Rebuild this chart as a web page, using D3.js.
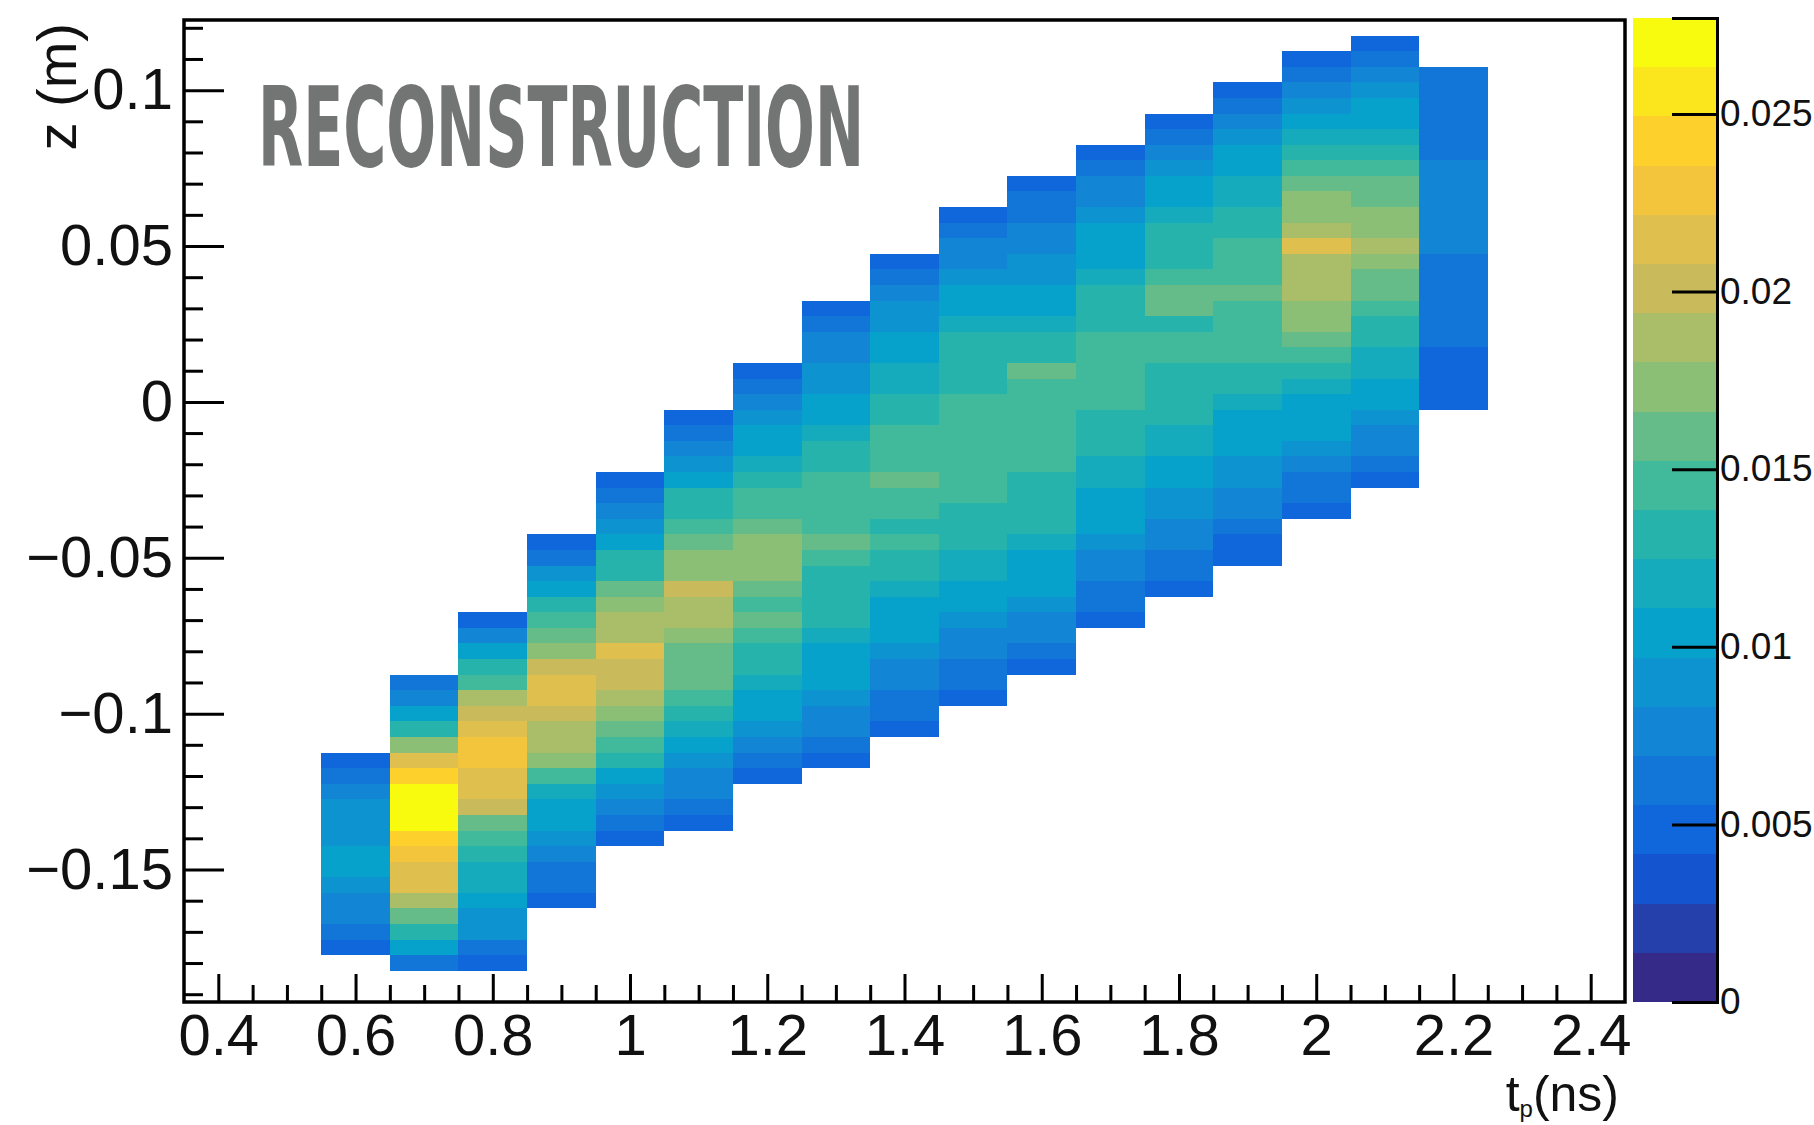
<!DOCTYPE html>
<html>
<head>
<meta charset="utf-8">
<script src="https://cdn.jsdelivr.net/npm/d3@7"></script>
<style>
  body { margin: 0; background: #fff; }
  svg { display: block; }
  .tick text { font-family: "Liberation Sans", Arial, sans-serif; fill: #111; }
</style>
</head>
<body>
<div id="chart"></div>
<script>
// t_p bin centres (ns), 0.1 ns wide
const tCentres = [0.6, 0.7, 0.8, 0.9, 1.0, 1.1, 1.2, 1.3, 1.4, 1.5, 1.6, 1.7, 1.8, 1.9, 2.0, 2.1, 2.2];
// centre of the lowest filled z bin in each column (m), bins are 0.005 m tall
const zLowest = [-0.175, -0.18, -0.18, -0.16, -0.14, -0.135, -0.12, -0.115, -0.105, -0.095,
                 -0.085, -0.07, -0.06, -0.05, -0.035, -0.025, 0];
// bin contents per column, bottom to top, in units of 1e-4
const cellValues = [
  [48,62,76,76,90,104,104,90,90,90,76,62,48],
  [62,104,132,159,187,215,215,229,242,270,270,270,242,215,173,132,104,76,62],
  [48,62,90,90,104,118,118,132,145,159,201,215,215,229,229,215,201,187,145,132,104,76,48],
  [48,62,62,76,90,104,104,118,145,173,187,187,201,215,215,201,173,159,145,132,104,90,62,48],
  [48,62,76,90,104,132,145,159,173,187,201,201,215,187,187,173,159,132,132,104,90,76,62,48],
  [48,62,76,76,90,104,118,132,145,159,159,159,173,187,187,201,173,173,159,145,132,132,104,90,76,62,48],
  [48,62,76,90,104,104,118,132,132,145,159,145,159,173,173,173,159,145,145,132,118,104,104,90,76,62,48],
  [48,62,76,76,90,104,104,104,118,132,132,132,132,145,159,145,145,145,145,132,132,118,104,104,90,90,76,76,62,48],
  [48,62,62,76,76,90,104,104,104,118,132,132,145,132,145,145,159,145,145,145,132,132,118,118,104,104,90,90,76,62,48],
  [48,62,62,76,76,90,104,104,118,118,132,132,132,145,145,145,145,145,145,145,132,132,132,132,118,104,104,90,76,76,62,48],
  [48,62,76,76,90,104,104,104,118,132,132,132,132,145,145,145,145,145,145,159,132,132,118,104,104,90,90,76,76,62,62,48],
  [48,62,62,76,76,90,104,104,104,118,118,132,132,132,145,145,145,145,145,132,132,132,118,104,104,104,90,76,76,62,48],
  [48,62,62,76,76,90,90,104,104,118,118,132,132,132,132,145,145,132,159,159,145,132,132,132,118,104,104,90,76,62,48],
  [48,48,62,76,76,90,90,104,104,104,118,132,132,145,145,145,145,159,145,145,145,132,132,118,118,104,104,90,76,62,48],
  [48,62,62,76,90,104,104,104,118,132,145,159,173,173,187,187,187,215,187,173,173,159,145,132,118,104,90,76,62,48],
  [48,62,76,76,90,104,104,118,118,132,132,145,159,159,173,187,173,173,159,159,145,132,118,104,104,90,76,62,48],
  [48,48,48,48,62,62,62,62,62,62,76,76,76,76,76,76,62,62,62,62,62,62]
];

const xTicks = [0.4, 0.6, 0.8, 1, 1.2, 1.4, 1.6, 1.8, 2, 2.2, 2.4];
const yTicks = [-0.15, -0.1, -0.05, 0, 0.05, 0.1];
const zTicks = [0, 0.005, 0.01, 0.015, 0.02, 0.025];
const zMax = 0.0277;
const nContours = 20;

// ROOT kBird palette
const birdStops = [0, 0.125, 0.25, 0.375, 0.5, 0.625, 0.75, 0.875, 1];
const birdColors = ["#352a87", "#0f5cdd", "#1481d6", "#06a4ca", "#2eb7a4",
                    "#87bf77", "#d1bb59", "#fec832", "#f9fb0e"];

const width = 1814, height = 1125;
const plot = { left: 184, right: 1625, top: 20, bottom: 1002 };
const bar = { left: 1633, right: 1717, top: 18, bottom: 1002 };

const svg = d3.select("#chart").append("svg")
    .attr("width", width)
    .attr("height", height);

const x = d3.scaleLinear().domain([0.35, 2.45]).range([plot.left, plot.right]);
const y = d3.scaleLinear().domain([-0.1925, 0.1225]).range([plot.bottom, plot.top]);
const zAxisScale = d3.scaleLinear().domain([0, zMax]).range([bar.bottom, bar.top]);

const bird = d3.scaleLinear().domain(birdStops).range(birdColors).interpolate(d3.interpolateRgb);
const levelColors = d3.range(nContours).map(i => bird(i / (nContours - 1)));
const colour = d3.scaleQuantize().domain([0, zMax]).range(levelColors);

// flatten the histogram
const cells = [];
tCentres.forEach((t, i) => {
    cellValues[i].forEach((v, j) => {
        cells.push({ t: t, z: zLowest[i] + j * 0.005, value: v * 1e-4 });
    });
});

svg.append("g")
    .attr("shape-rendering", "crispEdges")
    .selectAll("rect")
    .data(cells)
    .join("rect")
    .attr("x", d => x(d.t - 0.05))
    .attr("width", d => x(d.t + 0.05) - x(d.t - 0.05))
    .attr("y", d => y(d.z + 0.0025))
    .attr("height", d => y(d.z - 0.0025) - y(d.z + 0.0025))
    .attr("fill", d => colour(d.value));

// axes
const fmt = d3.format("~g");
const fontSize = 58;

const xMinor = d3.range(0.4, 2.45, 0.05).filter(v => !xTicks.some(t => Math.abs(t - v) < 1e-6));
svg.append("g")
    .attr("transform", `translate(0,${plot.bottom})`)
    .call(d3.axisBottom(x).tickValues(xMinor).tickSize(-17).tickFormat(""))
    .call(g => g.select(".domain").remove())
    .call(g => g.selectAll("text").remove())
    .call(g => g.selectAll("line").attr("stroke", "#000").attr("stroke-width", 3));
svg.append("g")
    .attr("transform", `translate(0,${plot.bottom})`)
    .call(d3.axisBottom(x).tickValues(xTicks).tickSize(-28).tickPadding(12).tickFormat(fmt))
    .call(g => g.select(".domain").remove())
    .call(g => g.selectAll("line").attr("stroke", "#000").attr("stroke-width", 3))
    .call(g => g.selectAll("text").attr("font-size", fontSize));

const yMinor = d3.range(-0.19, 0.125, 0.01).filter(v => !yTicks.some(t => Math.abs(t - v) < 1e-6));
svg.append("g")
    .attr("transform", `translate(${plot.left},0)`)
    .call(d3.axisLeft(y).tickValues(yMinor).tickSize(-19).tickFormat(""))
    .call(g => g.select(".domain").remove())
    .call(g => g.selectAll("text").remove())
    .call(g => g.selectAll("line").attr("stroke", "#000").attr("stroke-width", 3));
svg.append("g")
    .attr("transform", `translate(${plot.left},0)`)
    .call(d3.axisLeft(y).tickValues(yTicks).tickSize(-40).tickPadding(11).tickFormat(fmt))
    .call(g => g.select(".domain").remove())
    .call(g => g.selectAll("line").attr("stroke", "#000").attr("stroke-width", 3))
    .call(g => g.selectAll("text").attr("font-size", fontSize));

// frame
svg.append("rect")
    .attr("x", plot.left)
    .attr("y", plot.top)
    .attr("width", plot.right - plot.left)
    .attr("height", plot.bottom - plot.top)
    .attr("fill", "none")
    .attr("stroke", "#000")
    .attr("stroke-width", 3.5);

// axis titles
svg.append("text")
    .attr("transform", `translate(76,${plot.top + 3}) rotate(-90)`)
    .attr("text-anchor", "end")
    .attr("font-family", "Liberation Sans, Arial, sans-serif")
    .attr("font-size", 56)
    .attr("fill", "#111")
    .text("z (m)");

const xTitle = svg.append("text")
    .attr("x", 1619)
    .attr("y", 1111)
    .attr("text-anchor", "end")
    .attr("font-family", "Liberation Sans, Arial, sans-serif")
    .attr("font-size", 50)
    .attr("fill", "#111");
xTitle.append("tspan").text("t");
xTitle.append("tspan").attr("font-size", 24).attr("dy", 6).text("p");
xTitle.append("tspan").attr("dy", -6).text("(ns)");

// colour palette
const levelStep = zMax / nContours;
svg.append("g")
    .attr("shape-rendering", "crispEdges")
    .selectAll("rect")
    .data(levelColors)
    .join("rect")
    .attr("x", bar.left)
    .attr("width", bar.right - bar.left)
    .attr("y", (c, i) => zAxisScale((i + 1) * levelStep))
    .attr("height", (c, i) => zAxisScale(i * levelStep) - zAxisScale((i + 1) * levelStep))
    .attr("fill", c => c);

svg.append("g")
    .attr("transform", `translate(${bar.right},0)`)
    .call(d3.axisRight(zAxisScale).tickValues(zTicks).tickSize(-45).tickPadding(3).tickFormat(fmt))
    .call(g => g.select(".domain").attr("stroke", "#000").attr("stroke-width", 3))
    .call(g => g.selectAll("line").attr("stroke", "#000").attr("stroke-width", 3))
    .call(g => g.selectAll("text").attr("font-size", 37).attr("fill", "#222"));

// overlay label
svg.append("text")
    .attr("transform", "translate(258,166) scale(1,1.37)")
    .attr("font-family", "DejaVu Sans Condensed, DejaVu Sans, sans-serif")
    .attr("font-weight", "bold")
    .attr("font-size", 80)
    .attr("textLength", 606)
    .attr("lengthAdjust", "spacingAndGlyphs")
    .attr("fill", "#737574")
    .text("RECONSTRUCTION");
</script>
</body>
</html>
